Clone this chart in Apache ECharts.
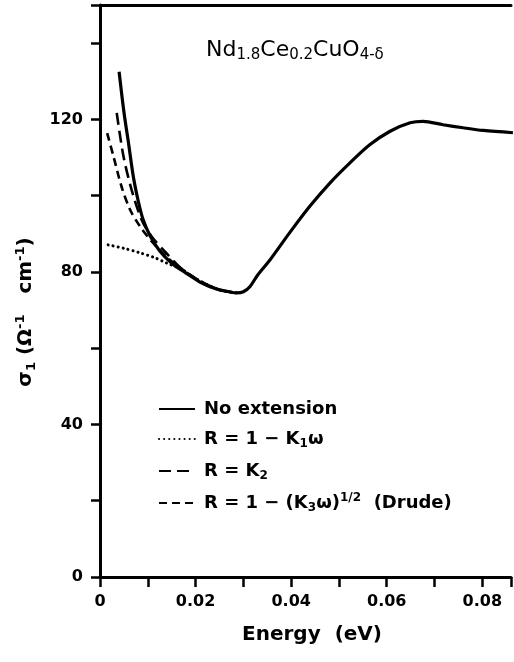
<!DOCTYPE html>
<html>
<head>
<meta charset="utf-8">
<script src="https://cdn.jsdelivr.net/npm/echarts@6/dist/echarts.min.js"></script>
<style>
  html, body { margin: 0; padding: 0; background: #fff; }
  #chart { width: 514px; height: 662px; }
</style>
</head>
<body>
<div id="chart"></div>
<script>
// energy (eV) / sigma_1 values
const solidEnergy = [0.0040, 0.0050, 0.0060, 0.0070, 0.0080, 0.0090, 0.0105, 0.0125, 0.0150, 0.0180, 0.0210, 0.0244, 0.0270, 0.0286, 0.0300, 0.0314, 0.0330,
  0.0356, 0.0397, 0.0439, 0.0481, 0.0523, 0.0565, 0.0607, 0.0649, 0.0676, 0.0718, 0.0760, 0.0802, 0.0864];
const solidSigma = [132.5, 122.0, 113.5, 104.8, 98.6, 93.8, 89.4, 85.5, 82.3, 79.7, 77.3, 75.5, 74.8, 74.5, 74.8, 76.2, 79.2,
  83.2, 90.3, 97.2, 103.3, 108.6, 113.4, 116.9, 119.1, 119.5, 118.6, 117.8, 117.1, 116.5];

const k1Energy = [0.0017, 0.0050, 0.0084, 0.0115, 0.0140, 0.0167, 0.0200, 0.0244, 0.0270, 0.0286];
const k1Sigma = [87.1, 86.2, 85.0, 83.7, 82.3, 80.9, 78.3, 75.5, 74.8, 74.5];

const k2Energy = [0.0035, 0.0049, 0.0066, 0.0087, 0.0108, 0.0139, 0.0170, 0.0200, 0.0244, 0.0270, 0.0286];
const k2Sigma = [121.7, 110.4, 101.6, 93.7, 89.3, 84.9, 80.9, 78.3, 75.5, 74.8, 74.5];

const drudeEnergy = [0.0015, 0.0028, 0.0045, 0.0063, 0.0084, 0.0111, 0.0146, 0.0180, 0.0220, 0.0260, 0.0286];
const drudeSigma = [116.4, 110.4, 102.4, 96.3, 91.9, 87.6, 83.2, 80.0, 76.8, 75.0, 74.5];

const yTickLabels = [0, 40, 80, 120];
const xTickLabels = [0, 0.02, 0.04, 0.06, 0.08];

const FONT = 'DejaVu Sans';
const pairs = (xs, ys) => xs.map((x, i) => [x, ys[i]]);

const legendText = {
  'No extension': '{t|No extension}',
  'K1': '{t|R = 1 − K}{s|1}{t|ω}',
  'K2': '{t|R = K}{s|2}',
  'K3': '{t|R = 1 − (K}{s|3}{t|ω)}{p|1/2}{t|  (Drude)}'
};

const chart = echarts.init(document.getElementById('chart'));

chart.setOption({
  animation: false,
  backgroundColor: '#fff',
  title: {
    text: '{b|Nd}{s|1.8}{b|Ce}{s|0.2}{b|CuO}{s|4-δ}',
    left: 201,
    top: 32,
    textStyle: {
      fontWeight: 'normal',
      rich: {
        b: { fontFamily: FONT, fontSize: 22, fontWeight: 'normal', color: '#000', lineHeight: 26 },
        s: { fontFamily: FONT, fontSize: 15, fontWeight: 'normal', color: '#000', lineHeight: 15, padding: [13, 0, 0, 0], verticalAlign: 'bottom' }
      }
    }
  },
  grid: { left: 100, right: 3, top: 5, bottom: 85 },
  legend: {
    orient: 'vertical',
    left: 153,
    top: 395,
    itemWidth: 36,
    itemHeight: 14,
    itemGap: 10,
    data: ['No extension', 'K1', 'K2', 'K3'],
    formatter: name => legendText[name],
    itemStyle: { opacity: 0 },
    textStyle: {
      padding: [0, 0, 0, 4],
      rich: {
        t: { fontFamily: FONT, fontSize: 18, fontWeight: 'bold', color: '#000', lineHeight: 22 },
        s: { fontFamily: FONT, fontSize: 12, fontWeight: 'bold', color: '#000', lineHeight: 14, padding: [10, 0, 0, 0], verticalAlign: 'bottom' },
        p: { fontFamily: FONT, fontSize: 12, fontWeight: 'bold', color: '#000', lineHeight: 14, padding: [0, 0, 10, 0], verticalAlign: 'top' }
      }
    }
  },
  xAxis: [{
    type: 'value',
    min: 0,
    max: 0.086,
    interval: 0.01,
    name: 'Energy  (eV)',
    nameLocation: 'middle',
    nameGap: 48,
    nameTextStyle: { fontFamily: FONT, fontSize: 20, fontWeight: 'bold', color: '#000', padding: [0, 0, 0, 13] },
    axisLine: { lineStyle: { color: '#000', width: 3 } },
    axisTick: { show: true, length: 10, lineStyle: { color: '#000', width: 2.5 } },
    axisLabel: {
      margin: 17,
      fontFamily: FONT, fontSize: 16, fontWeight: 'bold', color: '#000',
      formatter: v => {
        const hit = xTickLabels.find(t => Math.abs(t - v) < 1e-9);
        return hit === undefined ? '' : (hit === 0 ? '0' : hit.toFixed(2));
      }
    },
    splitLine: { show: false }
  }, {
    type: 'value',
    position: 'top',
    min: 0,
    max: 0.086,
    axisLine: { lineStyle: { color: '#000', width: 3 } },
    axisTick: { show: false },
    axisLabel: { show: false },
    splitLine: { show: false }
  }],
  yAxis: {
    type: 'value',
    min: 0,
    max: 150,
    interval: 20,
    name: '{t|σ}{s|1}{t| (Ω}{p|-1}{t|   cm}{p|-1}{t|)}',
    nameLocation: 'middle',
    nameGap: 57,
    nameRotate: 90,
    nameTextStyle: {
      padding: [0, 42, 0, 0],
      rich: {
        t: { fontFamily: FONT, fontSize: 20, fontWeight: 'bold', color: '#000', lineHeight: 24 },
        s: { fontFamily: FONT, fontSize: 13, fontWeight: 'bold', color: '#000', lineHeight: 14, padding: [12, 0, 0, 0], verticalAlign: 'bottom' },
        p: { fontFamily: FONT, fontSize: 13, fontWeight: 'bold', color: '#000', lineHeight: 14, padding: [0, 0, 12, 0], verticalAlign: 'top' }
      }
    },
    axisLine: { show: true, lineStyle: { color: '#000', width: 3 } },
    axisTick: { show: true, length: 9, lineStyle: { color: '#000', width: 2.5 } },
    axisLabel: {
      margin: 17,
      fontFamily: FONT, fontSize: 16, fontWeight: 'bold', color: '#000',
      formatter: v => (yTickLabels.includes(v) ? String(v) : '')
    },
    splitLine: { show: false }
  },
  series: [
    {
      name: 'No extension', type: 'line', smooth: 0.3, symbol: 'none',
      lineStyle: { color: '#000', width: 3.2 },
      itemStyle: { color: '#000' },
      data: pairs(solidEnergy, solidSigma), z: 5
    },
    {
      name: 'K1', type: 'line', smooth: 0.3, symbol: 'none',
      lineStyle: { color: '#000', width: 3, type: [0.1, 5], cap: 'round' },
      itemStyle: { color: '#000' },
      data: pairs(k1Energy, k1Sigma)
    },
    {
      name: 'K2', type: 'line', smooth: 0.3, symbol: 'none',
      lineStyle: { color: '#000', width: 2.6, type: [12, 6] },
      itemStyle: { color: '#000' },
      data: pairs(k2Energy, k2Sigma)
    },
    {
      name: 'K3', type: 'line', smooth: 0.3, symbol: 'none',
      lineStyle: { color: '#000', width: 2.6, type: [8, 5] },
      itemStyle: { color: '#000' },
      data: pairs(drudeEnergy, drudeSigma)
    }
  ]
});
</script>
</body>
</html>
